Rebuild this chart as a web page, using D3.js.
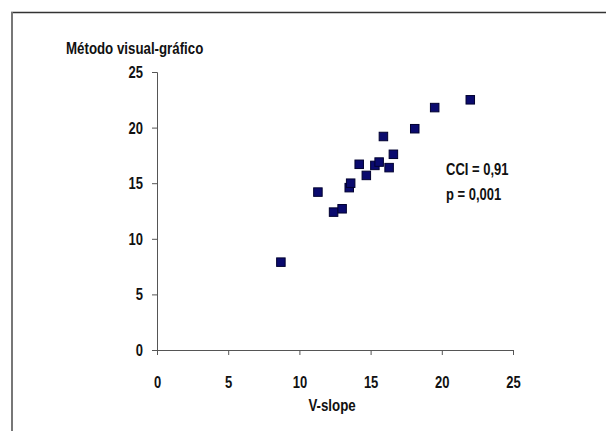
<!DOCTYPE html>
<html>
<head>
<meta charset="utf-8">
<script src="https://cdn.jsdelivr.net/npm/d3@7"></script>
<style>
  body { margin: 0; background: #fff; }
  svg text { font-family: "Liberation Sans", Arial, sans-serif; font-weight: bold; fill: #111; }
</style>
</head>
<body>
<div class="d3-container"></div>
<script>
// V-slope vs visual-graphic method
const vslope = [8.7, 11.3, 12.4, 13.0, 13.5, 13.6, 14.2, 14.7, 15.3, 15.6, 15.9, 16.3, 16.6, 18.1, 19.5, 22.0];
const visual = [7.9, 14.2, 12.4, 12.7, 14.6, 15.0, 16.7, 15.7, 16.6, 16.9, 19.2, 16.4, 17.6, 19.9, 21.8, 22.5];
const xTicks = [0, 5, 10, 15, 20, 25];
const yTicks = [0, 5, 10, 15, 20, 25];
const statLines = ["CCI = 0,91", "p = 0,001"];

const width = 606;
const height = 431;
const margin = {top: 72, bottom: 81, left: 157, right: 93};
const stretch = 1.3; // the scanned text is taller than it is wide

const svg = d3.select(".d3-container")
  .append("svg")
  .attr("width", width)
  .attr("height", height);

// frame (only top and left edges visible in the scan)
svg.append("line")
  .attr("x1", 11).attr("x2", width).attr("y1", 12.5).attr("y2", 12.5)
  .attr("stroke", "#333").attr("stroke-width", 1.5);
svg.append("line")
  .attr("x1", 12).attr("x2", 12).attr("y1", 12).attr("y2", height)
  .attr("stroke", "#777").attr("stroke-width", 2);

const x = d3.scaleLinear()
  .domain([0, 25])
  .range([margin.left, width - margin.right]);

const y = d3.scaleLinear()
  .domain([0, 25])
  .range([height - margin.bottom, margin.top]);

function xAxis(g) {
  g.attr("transform", `translate(0, ${y(0)})`)
  g.call(d3.axisBottom(x).tickValues(xTicks).tickSize(5).tickPadding(15))
  g.selectAll("path, line").attr("stroke", "#555")
  g.selectAll("text").attr("font-size", 13).attr("font-family", null)
    .attr("transform", `scale(1, ${stretch})`)
}

function yAxis(g) {
  g.attr("transform", `translate(${x(0)}, 0)`)
  g.call(d3.axisLeft(y).tickValues(yTicks).tickSize(5).tickPadding(9))
  g.selectAll("path, line").attr("stroke", "#555")
  g.selectAll("text").attr("font-size", 13).attr("font-family", null)
    .attr("transform", `scale(1, ${stretch})`)
}

svg.append("g").call(xAxis);
svg.append("g").call(yAxis);

// text placed at (tx, ty) baseline, stretched vertically
function label(tx, ty, str, size, anchor) {
  return svg.append("text")
    .attr("transform", `translate(${tx}, ${ty}) scale(1, ${stretch})`)
    .attr("text-anchor", anchor || "start")
    .attr("font-size", size)
    .text(str);
}

label(66, 54, "Método visual-gráfico", 13.3);
label(332, 411, "V-slope", 13.3, "middle");

// points
const s = 8.5;
svg.append("g")
  .selectAll("rect")
  .data(vslope.map((v, i) => ({x: v, y: visual[i]})))
  .join("rect")
  .attr("x", d => x(d.x) - s / 2)
  .attr("y", d => y(d.y) - s / 2)
  .attr("width", s)
  .attr("height", s)
  .attr("fill", "#0a0a6e")
  .attr("stroke", "#000030")
  .attr("stroke-width", 1);

// stats annotation
statLines.forEach((d, i) => label(446, 175 + i * 25, d, 13));
</script>
</body>
</html>
